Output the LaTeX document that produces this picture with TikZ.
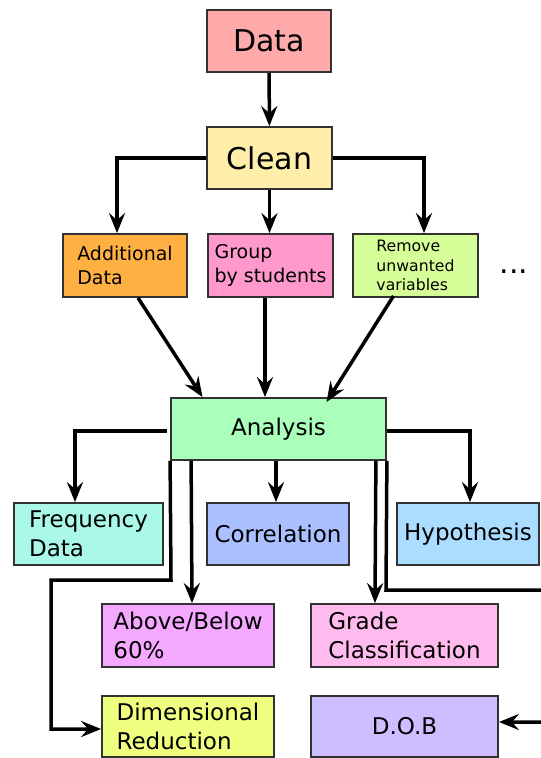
\documentclass[tikz,border=0pt]{standalone}
\usepackage{fontspec}
\setmainfont{DejaVu Sans}
\usepackage{tikz}
\usetikzlibrary{arrows.meta, positioning, calc}
\definecolor{edgegray}{RGB}{50, 50, 50}
\definecolor{datapink}{RGB}{255, 170, 170}
\definecolor{cleanyellow}{RGB}{255, 238, 170}
\definecolor{addorange}{RGB}{255, 176, 66}
\definecolor{grouppink}{RGB}{255, 153, 204}
\definecolor{removelime}{RGB}{215, 255, 153}
\definecolor{analysisgreen}{RGB}{170, 255, 187}
\definecolor{freqcyan}{RGB}{170, 248, 232}
\definecolor{corrblue}{RGB}{170, 192, 255}
\definecolor{hyplblue}{RGB}{170, 221, 255}
\definecolor{abovemagenta}{RGB}{245, 168, 255}
\definecolor{gradepink}{RGB}{255, 187, 238}
\definecolor{dimyellow}{RGB}{238, 255, 128}
\definecolor{dobpurple}{RGB}{204, 190, 255}

\tikzset{
    box/.style={draw=edgegray, line width=1.8pt, inner sep=0pt, align=left},
    flow/.style={-{Stealth[length=20pt, width=16pt, inset=7pt]}, line width=3.5pt},
    big/.style={font=\fontsize{30}{36}\selectfont},
    mid/.style={font=\fontsize{23}{29}\selectfont},
    small/.style={font=\fontsize{19}{24.3}\selectfont},
    tiny/.style={font=\fontsize{15.7}{19.3}\selectfont},
}

\begin{document}
\begin{tikzpicture}[x=1pt, y=-1pt]
    \useasboundingbox (0,0) rectangle (541,758);
    \clip (0,0) rectangle (541,758);

    % top of the pipeline
    \node[box, big, fill=datapink, minimum width=124pt, minimum height=62pt] (data) at (269,41) {Data};
    \node[box, big, fill=cleanyellow, minimum width=125pt, minimum height=62pt] (clean) at (269.5,158) {Clean};

    % cleaning steps
    \node[box, small, fill=addorange, minimum width=124pt, minimum height=63pt] (adddata) at (125,265.5) {Additional\\Data};
    \node[box, small, fill=grouppink, minimum width=125pt, minimum height=63pt] (group) at (270.5,265.5) {Group\\by students};
    \node[box, tiny, fill=removelime, minimum width=125pt, minimum height=63pt] (remove) at (415.5,265.5) {Remove\\unwanted\\variables};
    \node[big, anchor=base] (more) at (514,273) {...};

    % analysis and its outputs
    \node[box, mid, fill=analysisgreen, minimum width=215pt, minimum height=62pt] (analysis) at (278.5,429) {Analysis};
    \node[box, mid, fill=freqcyan, minimum width=149pt, minimum height=62pt] (freq) at (88.5,534) {Frequency\\Data};
    \node[box, mid, fill=corrblue, minimum width=142pt, minimum height=62pt] (corr) at (278,534) {Correlation};
    \node[box, mid, fill=hyplblue, minimum width=142pt, minimum height=62pt] (hyp) at (468,534) {Hypothesis};
    \node[box, mid, fill=abovemagenta, minimum width=172pt, minimum height=63pt] (above) at (188,635.5) {Above/Below\\60\%};
    \node[box, mid, fill=gradepink, minimum width=187pt, minimum height=63pt] (grade) at (404.5,635.5) {Grade\\Classification};
    \node[box, mid, fill=dimyellow, minimum width=172pt, minimum height=61pt] (dimred) at (188,726.5) {Dimensional\\Reduction};
    \node[box, mid, fill=dobpurple, minimum width=187pt, minimum height=61pt] (dob) at (404.5,726.5) {D.O.B};

    % connectors
    \draw[flow] (data) -- (clean);
    \draw[flow] (clean.west) -| ([xshift=-8pt]adddata.north);
    \draw[flow] (clean.south) -- (clean.south |- group.north);
    \draw[flow] (clean.east) -| ([xshift=8.5pt]remove.north);

    \draw[flow] ([xshift=13pt]adddata.south) -- ([xshift=-76pt]analysis.north);
    \draw[flow] ([xshift=-5.5pt]group.south) -- ([xshift=-5.5pt]group.south |- analysis.north);
    \draw[flow] ([xshift=-22pt, yshift=2pt]remove.south) -- ([xshift=48pt, yshift=-5pt]analysis.north);

    \draw[flow] ([xshift=-3pt, yshift=-2pt]analysis.west) -| ([xshift=-13.5pt]freq.north);
    \draw[flow] ([yshift=-2pt]analysis.east) -| ([xshift=2pt]hyp.north);
    \draw[flow] ([xshift=-2.5pt]analysis.south) -- ([xshift=-2pt]corr.north);
    \draw[flow] (analysis.south west) -- (171,580) -- (51,580) |- ([yshift=-2.5pt]dimred.west);
    \draw[flow] ([xshift=21pt]analysis.south west) -- ([xshift=4pt]above.north);
    \draw[flow] ([xshift=-11pt]analysis.south east) -- ([xshift=-29.5pt]grade.north);
    \draw[flow] (analysis.south east) -- (386,590) -- (560,590) |- ([yshift=4.5pt]dob.east);
\end{tikzpicture}
\end{document}
